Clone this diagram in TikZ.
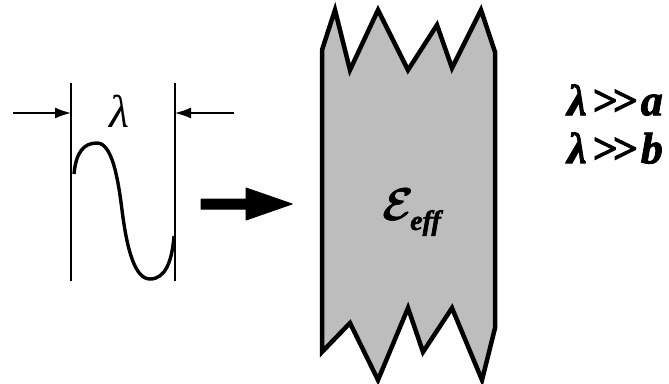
\documentclass[tikz,border=0pt]{standalone}
\usepackage{fontspec}
\setmainfont{Liberation Serif}
\newfontfamily\heavyserif[FakeBold=2]{Liberation Serif}
\usetikzlibrary{arrows.meta}
\begin{document}
\begin{tikzpicture}[x=1pt,y=-1pt,
  wall/.style={line width=2.6pt},
  dimarrow/.style={line width=1.6pt,-{Latex[length=16pt,width=11pt]}},
  wavecurve/.style={line width=3.4pt},
  slab/.style={draw=black,line width=4.5pt,fill=gray!52,line join=miter},
  fatarrow/.style={fill=black,draw=black,line width=1pt,line join=round},
  epsfont/.style={font=\fontsize{24.88}{25}\selectfont\boldmath,scale=1.85},
  subfont/.style={font=\fontsize{28}{28}\selectfont\heavyserif\bfseries\itshape},
  cond/.style={font=\fontsize{44}{50}\selectfont\heavyserif\bfseries\itshape,align=left,anchor=west,inner sep=0pt}]
\useasboundingbox (0,0) rectangle (669,383);
% walls
\coordinate (wl1) at (71,83); \coordinate (wl2) at (71,281);
\coordinate (wr1) at (175,83); \coordinate (wr2) at (175,281);
\draw[wall] (wl1) -- (wl2);
\draw[wall] (wr1) -- (wr2);
% dimension arrows
\coordinate (al) at (13,113); \coordinate (alt) at (71,113);
\coordinate (ar) at (234,113); \coordinate (art) at (175,113);
\draw[dimarrow] (al) -- (alt);
\draw[dimarrow] (ar) -- (art);
\node[font=\fontsize{46}{46}\selectfont\itshape] (lam) at (119,111) {λ};
% wave
\draw[wavecurve] (74,174) .. controls (76,152) and (84,143) .. (97,143)
  .. controls (112,143) and (118,178) .. (122,210)
  .. controls (127,250) and (135,279) .. (150,279)
  .. controls (165,279) and (172,262) .. (174,236);
% fat arrow
\fill[fatarrow] (201,199) -- (246,199) -- (246,188) -- (292,204) -- (246,220) -- (246,209) -- (201,209) -- cycle;
% slab
\draw[slab] (322,50) -- (335,10) -- (350,70) -- (378,10) -- (408,70) -- (437,25) -- (452,68) -- (481,10) -- (495,52) -- (495,328) -- (482,380) -- (452,308) -- (423,352) -- (408,308) -- (378,380) -- (350,323) -- (322,352) -- cycle;
\node[epsfont] (epsnode) at (398,205) {$\mathcal{E}$};
\node[epsfont] (epsnodeb) at (398.8,205) {$\mathcal{E}$};
\node[subfont,anchor=west,inner sep=0pt] (effnode) at (410,223) {eff};
% conditions
\node[cond] (c1) at (567,100) {λ\kern5pt>\kern-5pt>\kern4pt a};
\node[cond] (c2) at (567,148) {λ\kern5pt>\kern-5pt>\kern4pt b};
\end{tikzpicture}
\end{document}
